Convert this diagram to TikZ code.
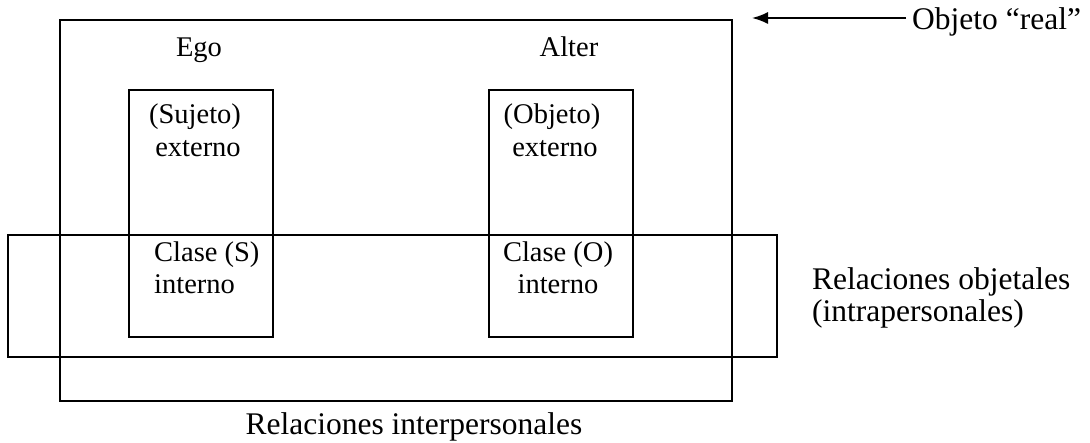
\documentclass[tikz,border=0pt]{standalone}
\usepackage{fontspec}
\setmainfont{Liberation Serif}
\usetikzlibrary{arrows.meta}
\begin{document}
\begin{tikzpicture}[x=1pt,y=-1pt,
  box/.style={draw=black,line width=1.7pt},
  inlbl/.style={inner sep=0pt,anchor=base,font=\fontsize{28.5}{32}\selectfont},
  outlbl/.style={inner sep=0pt,font=\fontsize{31.5}{36}\selectfont},
  pointer/.style={line width=1.7pt,-{Latex[length=16pt,width=12pt]}},
]
\useasboundingbox (0,0) rectangle (1090,443);
% boxes
\draw[box] (60,20) rectangle (732,401);
\draw[box] (129,90) rectangle (273,337);
\draw[box] (489,90) rectangle (633,337);
\draw[box] (8,235) rectangle (777,357);
% inner labels
\node[inlbl] (ego) at (199,57) {Ego};
\node[inlbl] (alter) at (569,57) {Alter};
\node[inlbl] (suj1) at (195,124) {(Sujeto)};
\node[inlbl] (suj2) at (198,157) {externo};
\node[inlbl] (obj1) at (552,124) {(Objeto)};
\node[inlbl] (obj2) at (555,157) {externo};
\node[inlbl,anchor=base west] (cls1) at (154,262) {Clase (S)};
\node[inlbl,anchor=base west] (cls2) at (154,294) {interno};
\node[inlbl] (clo1) at (558,262) {Clase (O)};
\node[inlbl] (clo2) at (558,294) {interno};
% outer labels
\node[outlbl,anchor=base west] (real) at (912,30) {Objeto “real”};
\node[outlbl,anchor=base west] (rob1) at (812,290) {Relaciones objetales};
\node[outlbl,anchor=base west] (rob2) at (812,322) {(intrapersonales)};
\node[outlbl,anchor=base] (rint) at (414,435) {Relaciones interpersonales};
% arrow
\coordinate (tip) at (752,18);
\coordinate (tail) at ([xshift=-6pt]real.west |- tip);
\draw[pointer] (tail) -- (tip);
\end{tikzpicture}
\end{document}
